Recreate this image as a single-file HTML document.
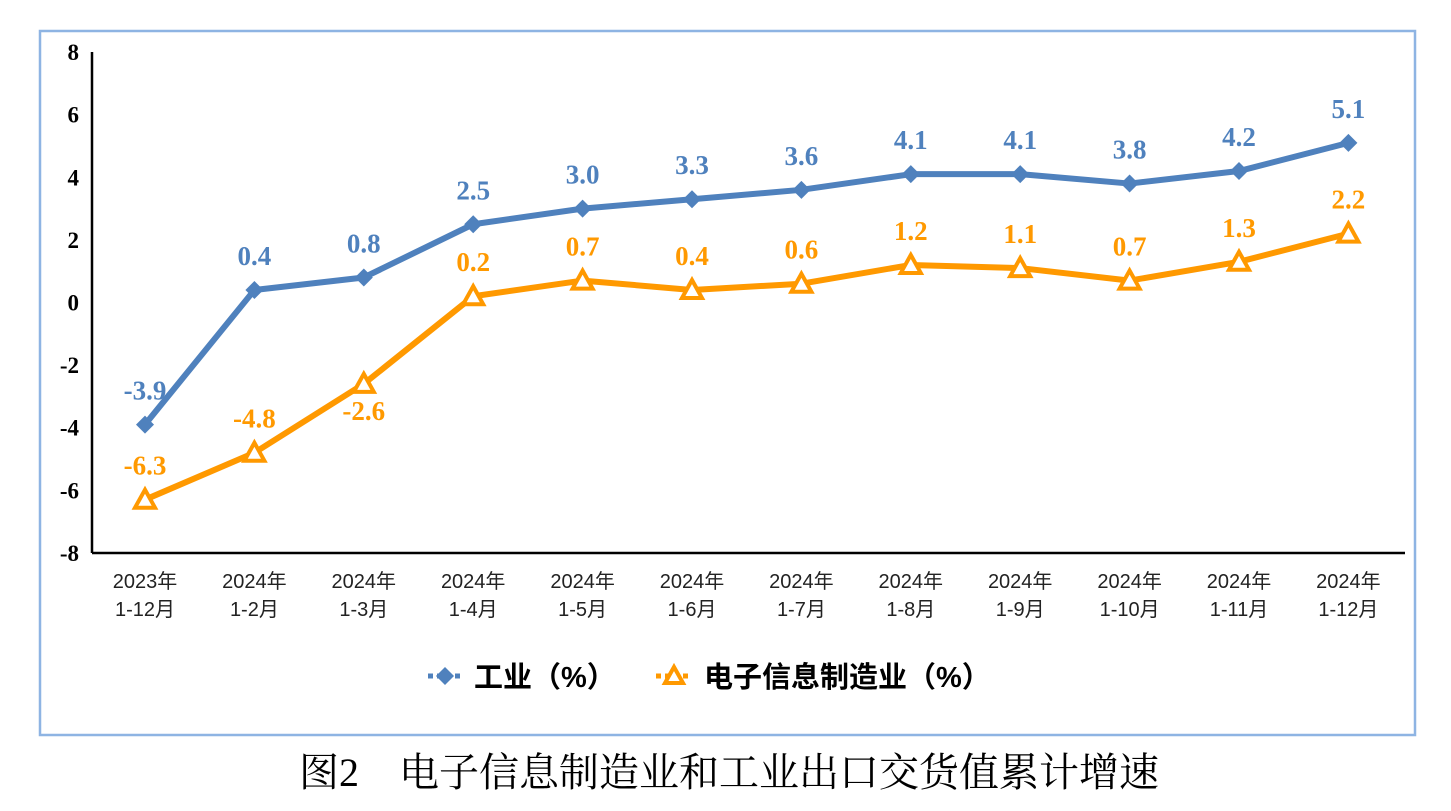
<!DOCTYPE html>
<html><head><meta charset="utf-8"><style>
body{margin:0;background:#fff;width:1451px;height:811px;overflow:hidden}
svg{display:block}
</style></head><body>
<svg width="1451" height="811">
<rect x="40" y="31" width="1375" height="704" fill="#fff" stroke="#8eb4e3" stroke-width="2.5"/>
<g id="axes"></g><g id="plot"></g>
<g>
 <g>
  <line x1="428" y1="676" x2="462" y2="676" stroke="#4f81bd" stroke-width="5" stroke-dasharray="5,4"/>
  <path d="M445,667 L454,676 L445,685 L436,676Z" fill="#4f81bd"/>
  <text x="474" y="687" font-family="Liberation Sans,'Noto Sans CJK SC',sans-serif" font-weight="bold" font-size="29" fill="#000">工业（%）</text>
 </g>
 <g>
  <line x1="656" y1="676" x2="692" y2="676" stroke="#ff9900" stroke-width="5" stroke-dasharray="5,4"/>
  <path d="M674,667 L683,683 L665,683Z" fill="#fff" stroke="#ff9900" stroke-width="4"/>
  <text x="704" y="687" font-family="Liberation Sans,'Noto Sans CJK SC',sans-serif" font-weight="bold" font-size="29" fill="#000">电子信息制造业（%）</text>
 </g>
</g>
<text x="729" y="786" text-anchor="middle" font-family="'Liberation Serif','Noto Serif CJK SC',serif" font-size="40" fill="#000">图2　电子信息制造业和工业出口交货值累计增速</text>
</svg>
<script>
const categoriesYear=["2023年","2024年","2024年","2024年","2024年","2024年","2024年","2024年","2024年","2024年","2024年","2024年"];
const categoriesMonth=["1-12月","1-2月","1-3月","1-4月","1-5月","1-6月","1-7月","1-8月","1-9月","1-10月","1-11月","1-12月"];
const industryValues=[-3.9,0.4,0.8,2.5,3.0,3.3,3.6,4.1,4.1,3.8,4.2,5.1];
const electronicsValues=[-6.3,-4.8,-2.6,0.2,0.7,0.4,0.6,1.2,1.1,0.7,1.3,2.2];
const yTicks=[8,6,4,2,0,-2,-4,-6,-8];
const NS="http://www.w3.org/2000/svg";
const y=v=>302.5-v*31.3;
const x=i=>145+i*109.4;
const axes=document.getElementById('axes'),plot=document.getElementById('plot');
function mk(tag,attrs,parent,txt){const e=document.createElementNS(NS,tag);for(const k in attrs)e.setAttribute(k,attrs[k]);if(txt!==undefined)e.textContent=txt;parent.appendChild(e);return e;}
let e=mk('line',{x1:92,y1:52,x2:92,y2:553,stroke:'#000','stroke-width':2.5},axes);


e=mk('line',{x1:92,y1:553,x2:1405,y2:553,stroke:'#000','stroke-width':2.5},axes);


yTicks.forEach(t=>{const el=mk('text',{x:79,y:y(t)+8,'text-anchor':'end','font-family':'Liberation Serif,serif','font-weight':'bold','font-size':23},axes,String(t));

});
categoriesYear.forEach((c,i)=>{const g=mk('text',{'text-anchor':'middle','font-family':"'Liberation Sans','Noto Sans CJK SC',sans-serif",'font-size':20,fill:'#222'},axes);


mk('tspan',{x:x(i),y:588},g,c);mk('tspan',{x:x(i),y:616},g,categoriesMonth[i]);});
function series(vals,color,name,marker,labelDy,belowIdx){
 const p=mk('polyline',{points:vals.map((v,i)=>x(i)+','+y(v)).join(' '),fill:'none',stroke:color,'stroke-width':6,'stroke-linejoin':'round'},plot);
 
 
 vals.forEach((v,i)=>{const cx=x(i),cy=y(v);let m;
  if(marker==='diamond')m=mk('path',{d:`M${cx},${cy-9}L${cx+9},${cy}L${cx},${cy+9}L${cx-9},${cy}Z`,fill:color},plot);
  else m=mk('path',{d:`M${cx},${cy-10}L${cx+10},${cy+8}L${cx-10},${cy+8}Z`,fill:'#fff',stroke:color,'stroke-width':4},plot);
  
  
  const dy=(belowIdx.indexOf(i)>=0)?36:labelDy;
  const l=mk('text',{x:cx,y:cy+dy,'text-anchor':'middle','font-family':'Liberation Serif,serif','font-weight':'bold','font-size':27,fill:color},plot,v.toFixed(1));
  
  });
}
series(industryValues,'#4f81bd','industry','diamond',-25,[]);
series(electronicsValues,'#ff9900','electronics','triangle',-25,[2]);
</script>
</body></html>
